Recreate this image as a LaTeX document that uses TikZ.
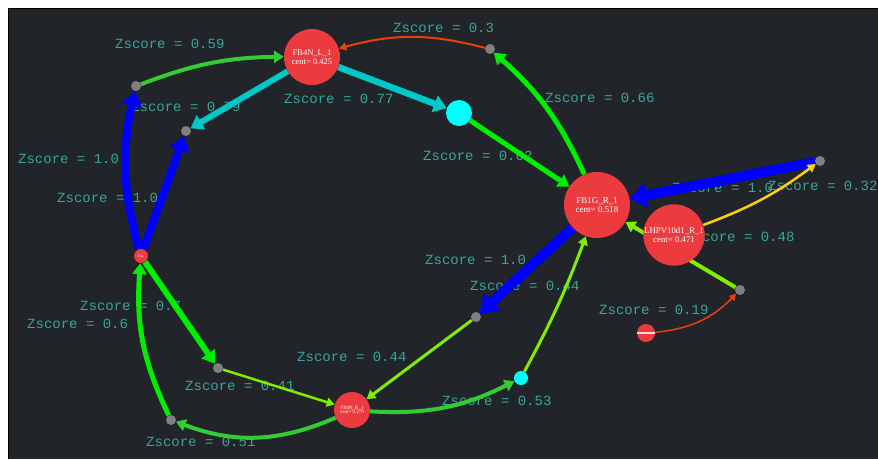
\documentclass[tikz,border=0pt]{standalone}
\usepackage{fontspec}
\setmainfont{Liberation Serif}
\newfontfamily\zmono{Liberation Mono}
\usetikzlibrary{arrows.meta}
\pgfdeclarelayer{bg}
\pgfdeclarelayer{lbl}
\pgfdeclarelayer{edges}
\pgfsetlayers{bg,lbl,edges,main}
\definecolor{bgc}{HTML}{212428}
\definecolor{nodered}{HTML}{EC3B3F}
\definecolor{dotgray}{HTML}{808080}
\definecolor{lblteal}{HTML}{35A79B}
\definecolor{cyanedge}{HTML}{00C8C8}
\definecolor{cyannode}{HTML}{00FFFF}
\definecolor{blueedge}{HTML}{0000FF}
\definecolor{gbright}{HTML}{00EE00}
\definecolor{gmid}{HTML}{33CC33}
\definecolor{gchart}{HTML}{80EE00}
\definecolor{orz}{HTML}{E8420A}
\definecolor{yel}{HTML}{FFD000}
\tikzset{
  rednode/.style={circle, fill=nodered, inner sep=0pt, minimum size=#1, text=white, align=center},
  graydot/.style={circle, fill=dotgray, inner sep=0pt, minimum size=10pt},
  cyandot/.style={circle, fill=cyannode, inner sep=0pt, minimum size=#1},
  zedge/.style={line width=#1, -{Triangle[length=5pt 1.2, width=4pt 2]}},
  zlabel/.style={text=lblteal, font=\zmono\fontsize{14}{14}\selectfont, anchor=west, inner sep=0pt},
}
\begin{document}
\begin{tikzpicture}[x=1pt,y=-1pt]
\useasboundingbox (0,0) rectangle (878,459);
\begin{pgfonlayer}{bg}
\fill[white] (0,0) rectangle (878,459);
\fill[bgc] (8,8) rectangle (878,459);
\draw[black, line width=1pt] (8,459) -- (8,8) -- (878,8);
\end{pgfonlayer}
% nodes
\node[rednode=56pt, font=\fontsize{8.5}{9.5}\selectfont] (fbl) at (312,57) {FB4N\_L\_1\\[-1pt]cent= 0.425};
\node[rednode=66pt, font=\fontsize{9}{10}\selectfont] (fbg) at (597,205) {FB1G\_R\_1\\[-1pt]cent= 0.518};
\node[rednode=60pt, font=\fontsize{8.8}{9.8}\selectfont] (lhp) at (674,235) {LHPV10d1\_R\_1\\[-1pt]cent= 0.471};
\node[rednode=14pt, font=\fontsize{3.5}{4}\selectfont] (bth) at (141,256) {Bth};
\node[rednode=36pt, font=\fontsize{5}{5.5}\selectfont] (fbr) at (352,410) {FB4N\_R\_1\\[-1pt]cent= 0.279};
\node[rednode=18pt] (sr) at (646,333) {};
\fill[white, opacity=0.8] (637,332.3) rectangle (655,333.7);
\node[cyandot=26pt] (c1) at (459,113) {};
\node[cyandot=14pt] (c2) at (521,378) {};
\node[graydot] (g1) at (490,49) {};
\node[graydot] (g2) at (136,86) {};
\node[graydot] (g3) at (186,131) {};
\node[graydot] (g4) at (820,161) {};
\node[graydot] (g5) at (740,290) {};
\node[graydot] (g6) at (476,317) {};
\node[graydot] (g7) at (218,368) {};
\node[graydot] (g8) at (171,420) {};
% edges
\begin{pgfonlayer}{edges}
\draw[zedge=2pt, orz] (g1) to[bend right=15] (fbl);
\draw[zedge=4pt, gmid] (g2) to[bend left=10] (fbl);
\draw[zedge=6pt, cyanedge] (fbl) -- (g3);
\draw[zedge=6.5pt, cyanedge] (fbl) -- (c1);
\draw[zedge=5pt, gbright] (c1) -- (fbg);
\draw[zedge=5pt, gbright] (fbg) to[bend right=12] (g1);
\draw[zedge=10pt, blueedge] (g4) -- (fbg);
\draw[zedge=2.5pt, yel] (lhp) to[bend right=8] (g4);
\draw[zedge=4pt, gchart] (g5) -- (fbg);
\draw[zedge=1.5pt, orz] (sr) to[bend right=20] (g5);
\draw[zedge=10pt, blueedge] (fbg) -- (g6);
\draw[zedge=3pt, gchart] (c2) to[bend right=4] (fbg);
\draw[zedge=3pt, gchart] (g6) -- (fbr);
\draw[zedge=4pt, gmid] (fbr) to[bend right=15] (c2);
\draw[zedge=4pt, gmid] (fbr) to[bend left=22] (g8);
\draw[zedge=5pt, gbright] (g8) to[bend left=15] (bth);
\draw[zedge=6pt, gbright] (bth) -- (g7);
\draw[zedge=2.5pt, gchart] (g7) -- (fbr);
\draw[zedge=8pt, blueedge] (bth) to[bend left=14] (g2);
\draw[zedge=8pt, blueedge] (bth) -- (g3);
\end{pgfonlayer}
% labels
\begin{pgfonlayer}{lbl}
\node[zlabel] (l1) at (393,28) {Zscore = 0.3};
\node[zlabel] (l2) at (115,44) {Zscore = 0.59};
\node[zlabel] (l3) at (131,107) {Zscore = 0.79};
\node[zlabel] (l4) at (284,99) {Zscore = 0.77};
\node[zlabel] (l5) at (545,98) {Zscore = 0.66};
\node[zlabel] (l6) at (423,156) {Zscore = 0.62};
\node[zlabel] (l7) at (18,159) {Zscore = 1.0};
\node[zlabel] (l8) at (57,198) {Zscore = 1.0};
\node[zlabel] (l9) at (672,188) {Zscore = 1.0};
\node[zlabel] (l10) at (768,186) {Zscore = 0.32};
\node[zlabel] (l11) at (685,237) {Zscore = 0.48};
\node[zlabel] (l12) at (425,260) {Zscore = 1.0};
\node[zlabel] (l13) at (470,286) {Zscore = 0.44};
\node[zlabel] (l14) at (599,310) {Zscore = 0.19};
\node[zlabel] (l15) at (80,306) {Zscore = 0.7};
\node[zlabel] (l16) at (27,324) {Zscore = 0.6};
\node[zlabel] (l17) at (297,357) {Zscore = 0.44};
\node[zlabel] (l18) at (185,386) {Zscore = 0.41};
\node[zlabel] (l19) at (442,401) {Zscore = 0.53};
\node[zlabel] (l20) at (146,442) {Zscore = 0.51};
\end{pgfonlayer}
\end{tikzpicture}
\end{document}
